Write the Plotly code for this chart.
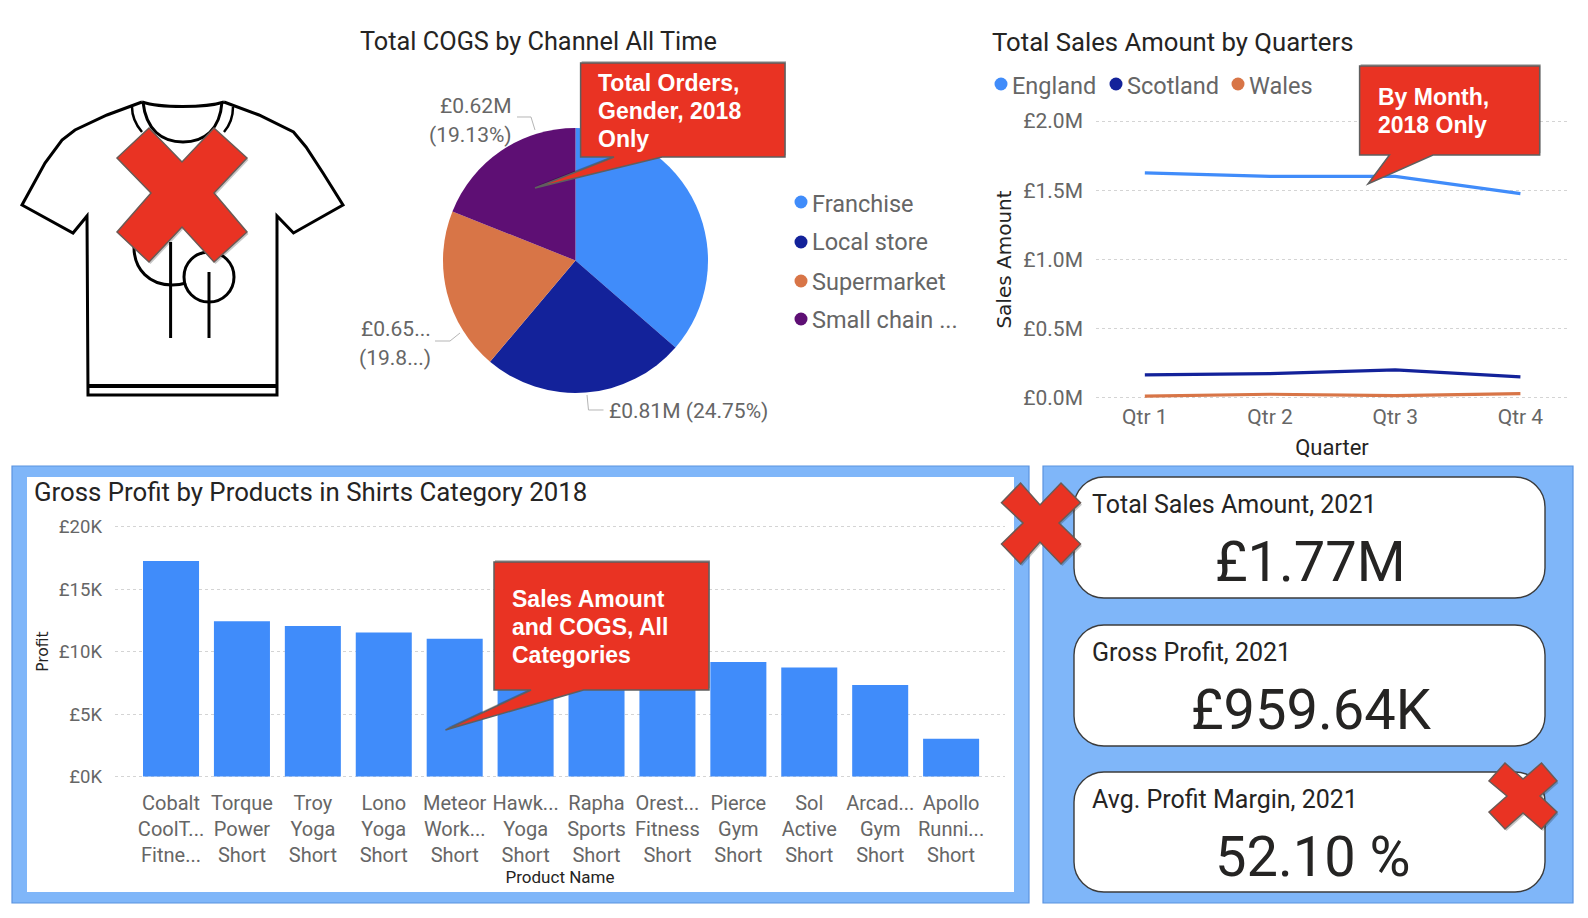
import plotly.graph_objects as go

# ---------- data ----------
channels = ["Franchise", "Local store", "Supermarket", "Small chain ..."]
channel_cogs = [1.19, 0.81, 0.65, 0.62]
channel_colors = ["#408CFA", "#13229A", "#D87547", "#5E0F74"]

quarters = ["Qtr 1", "Qtr 2", "Qtr 3", "Qtr 4"]
england = [1.625, 1.60, 1.60, 1.476]
scotland = [0.167, 0.176, 0.203, 0.152]
wales = [0.014, 0.027, 0.017, 0.031]
sales_ticks = [0, 0.5, 1.0, 1.5, 2.0]
sales_ticklabels = ["£0.0M", "£0.5M", "£1.0M", "£1.5M", "£2.0M"]

products = ["Cobalt<br>CoolT...<br>Fitne...", "Torque<br>Power<br>Short", "Troy<br>Yoga<br>Short",
            "Lono<br>Yoga<br>Short", "Meteor<br>Work...<br>Short", "Hawk...<br>Yoga<br>Short",
            "Rapha<br>Sports<br>Short", "Orest...<br>Fitness<br>Short", "Pierce<br>Gym<br>Short",
            "Sol<br>Active<br>Short", "Arcad...<br>Gym<br>Short", "Apollo<br>Runni...<br>Short"]
profit = [17250, 12430, 12040, 11530, 11030, 10600, 10100, 9600, 9170, 8720, 7330, 3030]
profit_ticks = [0, 5000, 10000, 15000, 20000]
profit_ticklabels = ["£0K", "£5K", "£10K", "£15K", "£20K"]

card_titles = ["Total Sales Amount, 2021", "Gross Profit, 2021", "Avg. Profit Margin, 2021"]
card_values = ["£1.77M", "£959.64K", "52.10 %"]

# ---------- pixel helpers ----------
W, H = 1588, 918
FONT = "Roboto"
DARK = "#252423"
GRAY = "#666666"
RED = "#E93323"
PANEL = "#7FB6F9"
BLUE = channel_colors[0]


def X(x):
    return x / W


def Y(y):
    return 1 - y / H


def poly(points, close=True):
    s = "M " + " L ".join(f"{X(a):.5f},{Y(b):.5f}" for a, b in points)
    return s + (" Z" if close else "")


def curve(start, *segs):
    s = f"M {X(start[0]):.5f},{Y(start[1]):.5f}"
    for (a, b, c) in segs:
        s += (f" C {X(a[0]):.5f},{Y(a[1]):.5f} {X(b[0]):.5f},{Y(b[1]):.5f}"
              f" {X(c[0]):.5f},{Y(c[1]):.5f}")
    return s


def rrect(x0, y0, x1, y1, r):
    k = r * 0.45
    return curve((x0 + r, y0),
                 ((x0 + r, y0), (x1 - r, y0), (x1 - r, y0)),
                 ((x1 - k, y0), (x1, y0 + k), (x1, y0 + r)),
                 ((x1, y0 + r), (x1, y1 - r), (x1, y1 - r)),
                 ((x1, y1 - k), (x1 - k, y1), (x1 - r, y1)),
                 ((x1 - r, y1), (x0 + r, y1), (x0 + r, y1)),
                 ((x0 + k, y1), (x0, y1 - k), (x0, y1 - r)),
                 ((x0, y1 - r), (x0, y0 + r), (x0, y0 + r)),
                 ((x0, y0 + k), (x0 + k, y0), (x0 + r, y0))) + " Z"


shapes = []
annotations = []


def path(d, fill=None, color=None, width=0, layer="above"):
    shapes.append(dict(type="path", xref="paper", yref="paper", path=d, layer=layer,
                       fillcolor=fill or "rgba(0,0,0,0)",
                       line=dict(color=color or "rgba(0,0,0,0)", width=width)))


def rect(x0, y0, x1, y1, fill, color=None, width=0):
    shapes.append(dict(type="rect", xref="paper", yref="paper", layer="below",
                       x0=X(x0), x1=X(x1), y0=Y(y1), y1=Y(y0), fillcolor=fill,
                       line=dict(color=color or "rgba(0,0,0,0)", width=width)))


def txt(x, y, s, size, color=DARK, anchor="left", family=FONT, bold=False):
    annotations.append(dict(x=X(x), y=Y(y), xref="paper", yref="paper", text=f"<b>{s}</b>" if bold else s,
                            showarrow=False, xanchor=anchor, yanchor="middle", borderpad=0,
                            font=dict(family=family, size=size, color=color)))


def dot(x, y, color, r=6.5):
    shapes.append(dict(type="circle", xref="paper", yref="paper", layer="above",
                       x0=X(x - r), x1=X(x + r), y0=Y(y + r), y1=Y(y - r),
                       fillcolor=color, line=dict(width=0)))


def red_x(points):
    shifted = [(a + 1.5, b + 2) for a, b in points]
    path(poly(shifted), fill="rgba(0,0,0,0.22)")
    path(poly(points), fill=RED, color="#6b5a55", width=1.5)


def callout(x0, y0, x1, y1, base0, base1, tip, lines, lx, ly):
    pts = [(x0, y0), (x1, y0), (x1, y1), (base1, y1), tip, (base0, y1), (x0, y1)]
    path(poly([(a + 1, b - 2) for a, b in pts]), fill="rgba(0,0,0,0.25)")
    path(poly(pts), fill=RED, color="#5f5f5f", width=1.5)
    for s, yy in zip(lines, ly):
        txt(lx, yy, s, 23, "#ffffff", family="Liberation Sans", bold=True)


# ---------- panels ----------
rect(12, 466, 1029, 903, PANEL, "#5B93E0", 1.2)
rect(27, 477, 1014, 892, "#ffffff")
rect(1043, 466, 1573, 903, PANEL, "#5B93E0", 1.2)

# ---------- traces ----------
fig = go.Figure()
fig.add_trace(go.Pie(labels=channels, values=channel_cogs, sort=False, direction="clockwise", rotation=0,
                     marker=dict(colors=channel_colors, line=dict(width=0)), textinfo="none",
                     showlegend=False, hole=0,
                     domain=dict(x=[X(443), X(708)], y=[Y(393), Y(128)])))
for name, vals, col in zip(["England", "Scotland", "Wales"], [england, scotland, wales], channel_colors):
    fig.add_trace(go.Scatter(x=quarters, y=vals, name=name, mode="lines", showlegend=False,
                             line=dict(color=col, width=3.2), xaxis="x", yaxis="y"))
fig.add_trace(go.Bar(x=products, y=profit, marker=dict(color=BLUE, line=dict(width=0)),
                     showlegend=False, xaxis="x2", yaxis="y2"))

# ---------- titles ----------
txt(359, 42, "Total COGS by Channel All Time", 25.3)
txt(991, 42, "Total Sales Amount by Quarters", 25.7)
txt(33, 492, "Gross Profit by Products in Shirts Category 2018", 25.8)

# ---------- pie labels and leaders ----------
for right, y, s in [(513, 106, "£0.62M"), (513, 135, "(19.13%)"), (432, 329, "£0.65..."), (432, 358, "(19.8...)")]:
    txt(right, y, s, 21, GRAY, "right")
txt(608, 411, "£0.81M (24.75%)", 21, GRAY)
for pts in [[(517, 117), (531, 117), (535, 130)], [(435, 341), (450, 341), (460, 333)],
            [(587, 395), (588.5, 410), (603.5, 410)]]:
    path(poly(pts, close=False), color="#b5b5b5", width=1)

# ---------- manual legends ----------
for name, col, yy, ty in zip(channels, channel_colors, [202, 242, 281, 319], [204, 242, 282, 320]):
    dot(801, yy, col)
    txt(811, ty, name, 23.5, GRAY)
for name, col, dx, tx in zip(["England", "Scotland", "Wales"], channel_colors, [1001, 1116, 1238], [1011, 1126, 1248]):
    dot(dx, 84, col)
    txt(tx, 86, name, 23.5, GRAY)

# ---------- t-shirt ----------
ink = dict(color="#000000", width=3)
path(poly([(142, 102), (107, 115), (75, 130), (62, 140), (45, 163), (22, 205), (73, 233), (87, 216),
           (88, 395), (277, 395), (277, 216), (293.5, 233), (343, 205), (323, 173), (306, 147),
           (293.5, 132), (259, 115), (224, 102)], close=False), **ink)
path(curve((142, 102), ((160, 108), (205, 108), (224, 102))), **ink)
path(curve((143, 102), ((146, 130), (162, 142), (183, 142)), ((204, 142), (220, 130), (222, 102))), **ink)
path(curve((132, 107), ((132, 118), (136, 125), (142, 132))), color="#000000", width=2.5)
path(curve((233, 107), ((233, 118), (230, 125), (224, 132))), color="#000000", width=2.5)
path(poly([(88, 386), (277, 386)], close=False), color="#000000", width=4)
path(curve((134, 247), ((134, 270), (150, 285), (172, 285)), ((178, 285), (183, 284), (186, 283))), **ink)
path(curve((184, 277), ((184, 263), (195, 252), (209, 252)), ((223, 252), (234, 263), (234, 277))) +
     " " + curve((234, 277), ((234, 291), (223, 302), (209, 302)), ((195, 302), (184, 291), (184, 277))), **ink)
path(poly([(170.6, 242), (170.6, 338)], close=False), **ink)
path(poly([(209, 272), (209, 338)], close=False), **ink)

# ---------- cards ----------
cards = [(477, 598, 504, 562, 1310), (625, 746, 652, 710, 1311), (772, 892, 799, 857, 1313)]
for (y0, y1, ty, vy, vx), t, v in zip(cards, card_titles, card_values):
    path(rrect(1074, y0, 1545, y1, 30), fill="#ffffff", color="#3c3c3c", width=1.4, layer="below")
    txt(1091, ty, t, 25, DARK)
    txt(vx, vy, v, 56, DARK, "center")

# ---------- red marks ----------
red_x([(149, 128), (117, 158), (151, 193), (117, 232), (149, 262), (182, 227), (214, 262), (247, 232),
       (214, 193), (247, 158), (214, 128), (182, 162)])
red_x([(1020.6, 483), (1001.5, 502.7), (1023, 523), (1001.5, 544), (1020.6, 564), (1040, 542), (1061, 564),
       (1080.5, 544), (1059, 523), (1080.5, 502.7), (1061, 483), (1040, 505)])
red_x([(1505, 763), (1489, 781), (1507, 796), (1489, 812), (1505, 829), (1523, 813), (1541.5, 829),
       (1557, 812), (1540, 796), (1557, 781), (1541.5, 763), (1523, 779)])

callout(580.6, 63, 785, 157, 614, 662, (535, 188), ["Total Orders,", "Gender, 2018", "Only"], 597, [83, 111, 139])
callout(1359.6, 66, 1539.7, 155, 1389.5, 1433, (1368, 184), ["By Month,", "2018 Only"], 1376.5, [97, 125])
callout(494, 562, 709, 690, 531, 583.5, (445.5, 730), ["Sales Amount", "and COGS, All", "Categories"], 511, [599, 627, 655])

# ---------- layout ----------
grid = dict(showgrid=True, gridcolor="#d4d4d4", griddash="dot", gridwidth=1, zeroline=False, showline=False)
fig.update_layout(
    width=W, height=H, margin=dict(l=0, r=0, t=0, b=0, pad=0, autoexpand=False), autosize=False,
    paper_bgcolor="#ffffff", plot_bgcolor="rgba(0,0,0,0)", showlegend=False, bargap=0.21,
    font=dict(family=FONT, color=GRAY),
    shapes=shapes, annotations=annotations,
    xaxis=dict(domain=[X(1096), X(1568)], anchor="y", type="category", categoryorder="array", categoryarray=quarters,
               range=[-0.39, 3.38], showgrid=False, zeroline=False, ticks="", ticklabelstandoff=1,
               tickfont=dict(size=21, color=GRAY, family=FONT),
               title=dict(text="Quarter", font=dict(size=22, color=DARK, family=FONT), standoff=11)),
    yaxis=dict(domain=[Y(400.76), Y(118.24)], anchor="x", range=[-0.02, 2.02], tickvals=sales_ticks,
               ticktext=sales_ticklabels, ticks="", ticklabelstandoff=12,
               tickfont=dict(size=21, color=GRAY, family=FONT),
               title=dict(text="Sales Amount", font=dict(size=20, color=DARK, family="DejaVu Sans"), standoff=6), **grid),
    xaxis2=dict(domain=[X(115), X(1005)], anchor="y2", type="category", range=[-0.79, 11.76], showgrid=False,
                zeroline=False, ticks="", ticklabelstandoff=9, tickangle=0,
                tickfont=dict(size=20, color=GRAY, family=FONT),
                title=dict(text="Product Name", font=dict(size=17, color=DARK, family=FONT), standoff=4)),
    yaxis2=dict(domain=[Y(779.6), Y(523.6)], anchor="x2", range=[-250, 20250], tickvals=profit_ticks,
                ticktext=profit_ticklabels, ticks="", ticklabelstandoff=12,
                tickfont=dict(size=18.5, color=GRAY, family=FONT),
                title=dict(text="Profit", font=dict(size=15.5, color=DARK, family="DejaVu Sans"), standoff=6), **grid),
)

fig.write_html("out.html", post_script="document.body.style.margin='0';", config={"displayModeBar": False})
